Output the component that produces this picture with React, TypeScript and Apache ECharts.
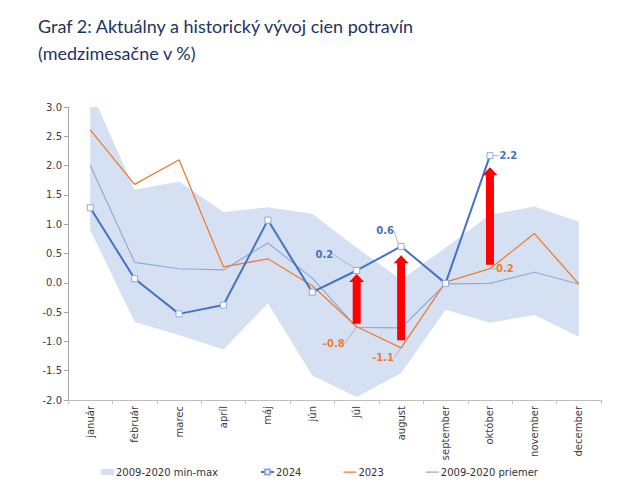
import React, { useEffect, useRef } from "react";
import * as echarts from "echarts";

const months = ["január", "február", "marec", "apríl", "máj", "jún", "júl", "august", "september", "október", "november", "december"];
const bandMax = [3.3, 1.59, 1.73, 1.21, 1.29, 1.18, 0.6, 0.05, 0.6, 1.16, 1.3, 1.04];
const bandMin = [0.9, -0.67, -0.89, -1.14, -0.35, -1.58, -1.95, -1.54, -0.46, -0.68, -0.55, -0.92];
const y2024 = [1.28, 0.07, -0.53, -0.38, 1.07, -0.16, 0.21, 0.62, -0.01, 2.17, null, null];
const y2023 = [2.61, 1.68, 2.1, 0.27, 0.41, -0.05, -0.75, -1.11, 0.01, 0.24, 0.84, -0.02];
const yMean = [2.0, 0.35, 0.24, 0.22, 0.68, 0.08, -0.76, -0.77, -0.02, -0.01, 0.18, -0.02];
// arrows: [month index, from, to]
const arrows = [[6, -0.7, 0.15], [7, -0.98, 0.47], [9, 0.31, 1.97]];
const labeled2024 = [6, 7, 9];
const labeled2023 = [6, 7, 9];

const BLUE = "#4472c4";
const ORANGE = "#ed7d31";
const MEAN = "#8eaadb";
const BAND = "#d6e0f3";
const AXISFONT = "DejaVu Sans";
const LINE_ICON = "path://M0,0h13v0.01h-13z M0,2.4h13v1.3h-13z M0,6h13v0.01h-13z";

const pos2024: Record<number, string> = { 6: "left", 7: "top", 9: "right" };
const pos2023: Record<number, string> = { 6: "bottom", 7: "bottom", 9: "right" };
const move2024: Record<number, number[]> = { 6: [-15, -16], 7: [-16, -2] };
const move2023: Record<number, number[]> = { 6: [-23, 7], 7: [-18, 0] };

function withLabels(values: (number | null)[], idxs: number[], pos: Record<number, string>, color: string) {
  return values.map((v, i) => {
    if (v === null) return null;
    if (idxs.indexOf(i) < 0) return v;
    return {
      value: v,
      label: {
        show: true,
        position: pos[i],
        distance: pos[i] === "right" ? 6 : 5,
        formatter: (p: any) => Number(p.value).toFixed(1),
        color,
        fontWeight: "bold",
        fontSize: 10,
        fontFamily: AXISFONT,
      },
    };
  });
}

export default function App() {
  const ref = useRef<HTMLDivElement>(null);
  useEffect(() => {
    if (!ref.current) return;
    const chart = echarts.init(ref.current, undefined, { renderer: "svg" });
    const diff = bandMax.map((v, i) => +(v - bandMin[i]).toFixed(3));
    const labelLineCfg = { show: true, lineStyle: { color: "#a6a6a6", width: 0.8 } };
    chart.setOption({
      animation: false,
      backgroundColor: "#ffffff",
      title: {
        text: "Graf 2: Aktuálny a historický vývoj cien potravín\n(medzimesačne v %)",
        left: 33,
        top: 7,
        textStyle: {
          fontFamily: "Lato",
          fontSize: 18,
          fontWeight: "normal",
          color: "#1f3260",
          lineHeight: 27,
        },
      },
      legend: {
        left: 96,
        top: 462,
        itemWidth: 13,
        itemHeight: 6,
        itemGap: 42,
        textStyle: { fontFamily: AXISFONT, fontSize: 10, color: "#333333", padding: [0, 0, 0, -3] },
        data: [
          { name: "2009-2020 min-max", icon: "rect", itemStyle: { color: BAND } },
          { name: "2024" },
          { name: "2023", icon: LINE_ICON, itemStyle: { color: ORANGE } },
          { name: "2009-2020 priemer", icon: LINE_ICON, itemStyle: { color: MEAN } },
        ],
      },
      grid: { left: 68, right: 19, top: 107, bottom: 94, containLabel: false },
      xAxis: {
        type: "category",
        data: months,
        boundaryGap: true,
        axisLine: { show: true, onZero: false, lineStyle: { color: "#bfbfbf" } },
        axisTick: { show: true, alignWithLabel: false, interval: 0, length: 4, lineStyle: { color: "#bfbfbf" } },
        axisLabel: {
          interval: 0,
          rotate: 90,
          fontFamily: AXISFONT,
          fontSize: 10,
          color: "#404040",
          margin: 6,
        },
      },
      yAxis: {
        type: "value",
        min: -2,
        max: 3,
        interval: 0.5,
        splitLine: { show: false },
        axisLine: { show: true, lineStyle: { color: "#a6a6a6" } },
        axisTick: { show: true, length: 4, lineStyle: { color: "#a6a6a6" } },
        axisLabel: {
          formatter: (v: number) => v.toFixed(1),
          fontFamily: AXISFONT,
          fontSize: 10,
          color: "#404040",
          margin: 6,
        },
      },
      series: [
        {
          name: "bandBase",
          type: "line",
          stack: "band",
          stackStrategy: "all",
          data: bandMin,
          symbol: "none",
          lineStyle: { width: 0, opacity: 0 },
          silent: true,
          z: 1,
        },
        {
          name: "2009-2020 min-max",
          type: "line",
          stack: "band",
          stackStrategy: "all",
          data: diff,
          symbol: "none",
          color: BAND,
          itemStyle: { color: BAND },
          lineStyle: { width: 0, opacity: 0 },
          areaStyle: { color: BAND, opacity: 1 },
          silent: true,
          z: 1,
        },
        {
          name: "2009-2020 priemer",
          type: "line",
          data: yMean,
          symbol: "none",
          color: MEAN,
          lineStyle: { color: MEAN, width: 1.2 },
          z: 2,
        },
        {
          name: "2023",
          type: "line",
          data: withLabels(y2023, labeled2023, pos2023, ORANGE),
          symbol: "circle",
          symbolSize: 0.1,
          showSymbol: true,
          showAllSymbol: true,
          color: ORANGE,
          itemStyle: { color: ORANGE },
          lineStyle: { color: ORANGE, width: 1.3 },
          labelLine: labelLineCfg,
          labelLayout: (p: any) => {
            const m = move2023[p.dataIndex];
            return m ? { dx: m[0], dy: m[1] } : {};
          },
          z: 3,
        },
        {
          name: "2024",
          type: "line",
          data: withLabels(y2024, labeled2024, pos2024, BLUE),
          symbol: "rect",
          symbolSize: 6,
          showSymbol: true,
          showAllSymbol: true,
          color: BLUE,
          itemStyle: { color: "#ffffff", borderColor: "#8faadc", borderWidth: 1 },
          lineStyle: { color: BLUE, width: 2 },
          labelLine: labelLineCfg,
          labelLayout: (p: any) => {
            const m = move2024[p.dataIndex];
            return m ? { dx: m[0], dy: m[1] } : {};
          },
          z: 4,
        },
        {
          name: "arrows",
          type: "custom",
          data: arrows,
          encode: { x: 0, y: [1, 2] },
          silent: true,
          z: 5,
          renderItem: (params: any, api: any) => {
            const x = api.value(0);
            const p0 = api.coord([x, api.value(1)]);
            const p1 = api.coord([x, api.value(2)]);
            const bw = 4;
            const hw = 7.5;
            const hl = 8;
            const cx = p0[0];
            return {
              type: "polygon",
              shape: {
                points: [
                  [cx - bw, p0[1]],
                  [cx - bw, p1[1] + hl],
                  [cx - hw, p1[1] + hl],
                  [cx, p1[1]],
                  [cx + hw, p1[1] + hl],
                  [cx + bw, p1[1] + hl],
                  [cx + bw, p0[1]],
                ],
              },
              style: { fill: "#ff0000", stroke: "none" },
            };
          },
        },
      ],
    });
    return () => chart.dispose();
  }, []);
  return <div ref={ref} style={{ width: 620, height: 494, position: "absolute", left: 0, top: 0 }} />;
}
